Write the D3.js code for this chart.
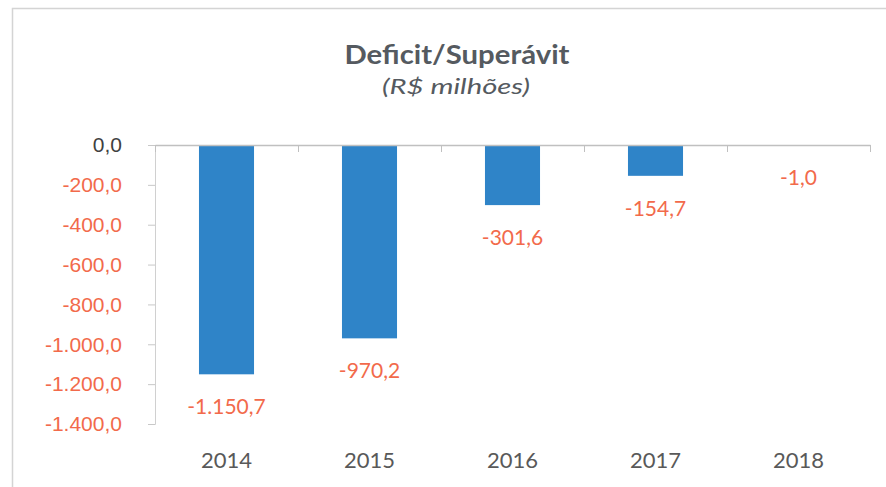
<!DOCTYPE html>
<html>
<head>
<meta charset="utf-8">
<script src="https://cdn.jsdelivr.net/npm/d3@7"></script>
<style>
  body { margin: 0; background: #fff; }
  svg { display: block; font-family: Lato, "Open Sans", sans-serif; }
</style>
</head>
<body>
<svg id="chart" width="886" height="487"></svg>
<script>
const years = ["2014", "2015", "2016", "2017", "2018"];
const values = [-1150.7, -970.2, -301.6, -154.7, -1.0];
const yTicks = [0, -200, -400, -600, -800, -1000, -1200, -1400];

const locale = d3.formatLocale({decimal: ",", thousands: ".", grouping: [3], currency: ["R$", ""], minus: "-"});
const fmt = locale.format(",.1f");

const svg = d3.select("#chart");
const margin = {top: 145, right: 16, bottom: 63, left: 155};
const width = 886 - margin.left - margin.right;   // 715
const height = 487 - margin.top - margin.bottom;  // 279

const orange = "#f26a4b";

// frame
svg.append("path")
   .attr("d", "M12.5,487 L12.5,8.5 L886,8.5")
   .attr("fill", "none")
   .attr("stroke", "#d4d4d4")
   .attr("stroke-width", 1.5);

// titles
svg.append("text")
   .attr("x", 457).attr("y", 64)
   .attr("text-anchor", "middle")
   .attr("fill", "#555a60")
   .style("font-size", "26px").style("font-weight", "bold")
   .attr("textLength", 225).attr("lengthAdjust", "spacingAndGlyphs")
   .text("Deficit/Superávit");

svg.append("text")
   .attr("x", 456).attr("y", 94)
   .attr("text-anchor", "middle")
   .attr("fill", "#555a60")
   .style("font-size", "21px").style("font-style", "italic")
   .attr("textLength", 148).attr("lengthAdjust", "spacingAndGlyphs")
   .text("(R$ milhões)");

const chart = svg.append("g")
   .attr("transform", "translate(" + margin.left + "," + margin.top + ")");

const x = d3.scaleBand().domain(years).range([0, width]).paddingInner(0.615).paddingOuter(0.3075);
const y = d3.scaleLinear().domain([0, -1400]).range([0, height]);

// y axis
const yAxis = chart.append("g")
   .call(d3.axisLeft(y).tickValues(yTicks).tickFormat(fmt).tickSize(7).tickPadding(26));
yAxis.select(".domain").attr("stroke", "#d0d0d0");
yAxis.selectAll(".tick line").attr("stroke", "#c8c8c8");
yAxis.selectAll(".tick text")
   .style("font-size", "21px")
   .attr("fill", d => d === 0 ? "#404040" : orange);

// bars
chart.selectAll(".bar")
   .data(values)
  .enter().append("rect")
   .attr("class", "bar")
   .attr("x", (d, i) => x(years[i]))
   .attr("y", y(0))
   .attr("width", x.bandwidth())
   .attr("height", d => y(d) - y(0))
   .attr("fill", "#2f84c8");

// zero line with category ticks
const xAxis = d3.axisBottom(d3.scaleLinear().domain([0, years.length]).range([0, width]))
   .ticks(years.length).tickFormat("").tickSize(7).tickSizeOuter(0);
const xg = chart.append("g").attr("transform", "translate(0," + y(0) + ")").call(xAxis);
xg.select(".domain").attr("stroke", "#c0c0c0").attr("stroke-width", 1.5);
xg.selectAll(".tick line").attr("stroke", "#c0c0c0");

// year labels
chart.selectAll(".year")
   .data(years)
  .enter().append("text")
   .attr("class", "year")
   .attr("x", d => x(d) + x.bandwidth() / 2)
   .attr("y", 323)
   .attr("text-anchor", "middle")
   .attr("fill", "#595959")
   .style("font-size", "22px")
   .text(d => d);

// data labels
chart.selectAll(".label")
   .data(values)
  .enter().append("text")
   .attr("class", "label")
   .attr("x", (d, i) => x(years[i]) + x.bandwidth() / 2)
   .attr("y", d => y(d) + 40)
   .attr("text-anchor", "middle")
   .attr("fill", orange)
   .style("font-size", "21px")
   .text(d => fmt(d));
</script>
</body>
</html>
